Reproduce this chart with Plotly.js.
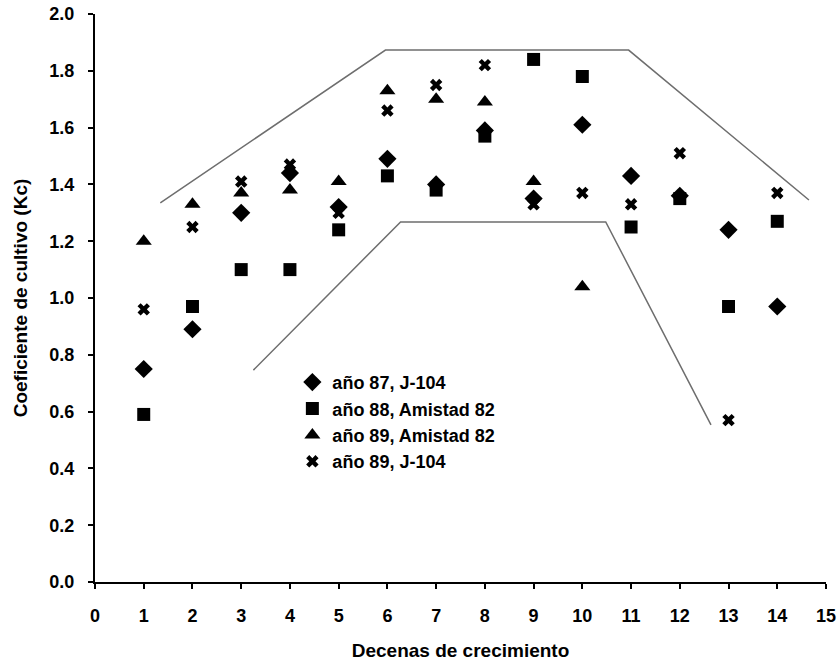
<!DOCTYPE html>
<html>
<head>
<meta charset="utf-8">
<script src="https://cdn.plot.ly/plotly-3.0.1.min.js"></script>
<style>html,body{margin:0;padding:0;background:#fff;}#chart{width:837px;height:662px;}</style>
</head>
<body>
<div id="chart"></div>
<script>
// Decenas de crecimiento
const decenas = [1,2,3,4,5,6,7,8,9,10,11,12,13,14];
const decenasTri = [1,2,3,4,5,6,7,8,9,10];
// Series values (Kc)
const ano87_J104 = [0.75,0.89,1.30,1.44,1.32,1.49,1.40,1.59,1.35,1.61,1.43,1.36,1.24,0.97];
const ano88_Amistad82 = [0.59,0.97,1.10,1.10,1.24,1.43,1.38,1.57,1.84,1.78,1.25,1.35,0.97,1.27];
const ano89_Amistad82 = [1.20,1.33,1.37,1.38,1.41,1.73,1.70,1.69,1.41,1.04];
const ano89_J104 = [0.96,1.25,1.41,1.47,1.30,1.66,1.75,1.82,1.33,1.37,1.33,1.51,0.57,1.37];
// Envelope lines
const upperX = [1.34,5.96,10.95,14.65];
const upperY = [1.335,1.873,1.873,1.345];
const lowerX = [3.25,6.27,10.48,12.64];
const lowerY = [0.746,1.268,1.268,0.553];
const seriesNames = ['año 87, J-104','año 88, Amistad 82','año 89, Amistad 82','año 89, J-104'];

const fam = '"Liberation Sans", Arial, sans-serif';
const tickFont = {family:fam, size:18, color:'#000', weight:'bold'};
const titleFont = {family:fam, size:19, color:'#000', weight:'bold'};
const legFont = {family:fam, size:18, color:'#000', weight:'bold'};
const lineStyle = {color:'#6e6e6e', width:1.5};

const traces = [
  {x:upperX, y:upperY, mode:'lines', line:lineStyle, showlegend:false, hoverinfo:'skip'},
  {x:lowerX, y:lowerY, mode:'lines', line:lineStyle, showlegend:false, hoverinfo:'skip'},
  {x:decenas, y:ano87_J104, mode:'markers', name:seriesNames[0], marker:{symbol:'diamond', size:14, color:'#000'}},
  {x:decenas, y:ano88_Amistad82, mode:'markers', name:seriesNames[1], marker:{symbol:'square', size:13, color:'#000'}},
  {x:decenasTri, y:ano89_Amistad82, mode:'markers', name:seriesNames[2], marker:{symbol:'triangle-up', size:14, color:'#000'}},
  {x:decenas, y:ano89_J104, mode:'markers', name:seriesNames[3], marker:{symbol:'x', size:11, color:'#000'}}
];

const layout = {
  width:837, height:662,
  margin:{l:95, r:11, t:14, b:80},
  paper_bgcolor:'#fff', plot_bgcolor:'#fff',
  font:tickFont,
  showlegend:true,
  legend:{x:0.27, y:0.384, xanchor:'left', yanchor:'top', bgcolor:'rgba(0,0,0,0)', font:legFont, tracegroupgap:0, itemwidth:30},
  xaxis:{
    range:[0,15], dtick:1, tick0:0, showgrid:false, zeroline:false,
    showline:true, linecolor:'#000', linewidth:2, ticks:'outside', ticklen:5, tickwidth:2, tickcolor:'#000',
    tickfont:tickFont, ticklabelstandoff:11,
    title:{text:'Decenas de crecimiento', font:titleFont, standoff:19}
  },
  yaxis:{
    range:[0,2], dtick:0.2, tick0:0, tickformat:'.1f', showgrid:false, zeroline:false,
    showline:true, linecolor:'#000', linewidth:2, ticks:'outside', ticklen:5, tickwidth:2, tickcolor:'#000',
    tickfont:tickFont, ticklabelstandoff:10,
    title:{text:'Coeficiente de cultivo (Kc)', font:titleFont, standoff:17}
  }
};

Plotly.newPlot('chart', traces, layout, {displayModeBar:false, staticPlot:true});
</script>
</body>
</html>
